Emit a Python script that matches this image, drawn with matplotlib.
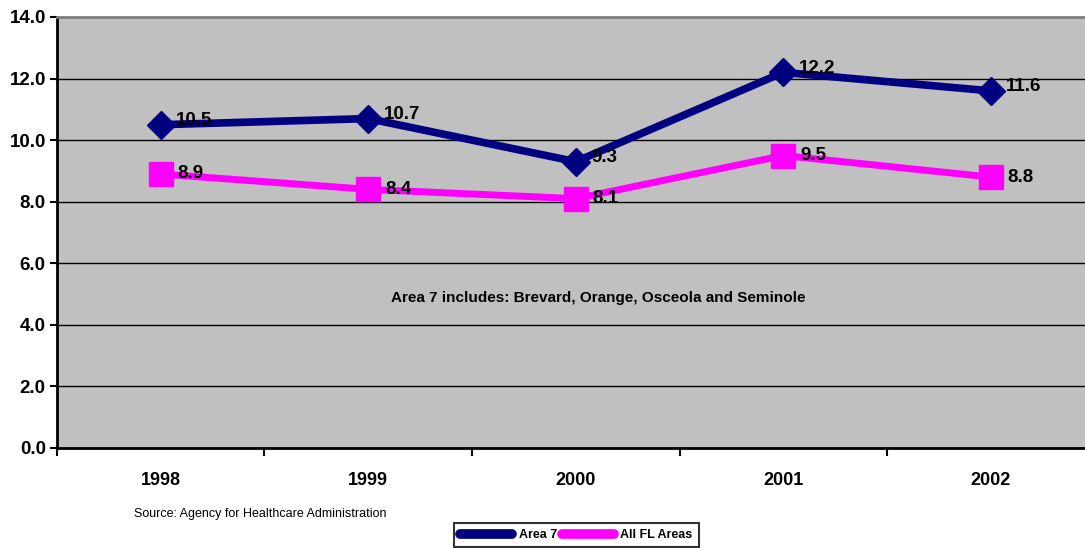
import matplotlib.pyplot as plt
import numpy as np
from matplotlib.ticker import FixedLocator, NullFormatter

# data
years = ['1998', '1999', '2000', '2001', '2002']
area7 = [10.5, 10.7, 9.3, 12.2, 11.6]
all_fl = [8.9, 8.4, 8.1, 9.5, 8.8]

plt.rcParams['font.family'] = ['Liberation Sans', 'DejaVu Sans']

fig = plt.figure(figsize=(10.85, 5.48), dpi=100)
ax = fig.add_axes([0.0525, 0.1825, 0.9475, 0.7865])
ax.set_facecolor('#c0c0c0')

x = np.arange(len(years))
ax.plot(x, area7, color='#000080', lw=5.5, marker='D', ms=14, label='Area 7', zorder=4)
ax.plot(x, all_fl, color='#ff00ff', lw=5, marker='s', ms=17, label='All FL Areas', zorder=3)

for xi, v in zip(x, area7):
    ax.annotate(f'{v:.1f}', (xi, v), xytext=(11, 3), textcoords='offset points',
                ha='left', va='center', fontsize=13.5, fontweight='bold', zorder=5)
for xi, v in zip(x, all_fl):
    ax.annotate(f'{v:.1f}', (xi, v), xytext=(12, 0), textcoords='offset points',
                ha='left', va='center', fontsize=13.5, fontweight='bold', zorder=5)

ax.set_xlim(-0.5, 4.454)
ax.set_ylim(0, 14)
ax.set_yticks(np.arange(0, 15, 2))
ax.set_yticklabels([f'{t:.1f}' for t in np.arange(0, 15, 2)], fontsize=13.5, fontweight='bold')
ax.yaxis.grid(True, color='black', lw=1)
ax.set_axisbelow(True)

# category boundaries as major ticks, labels at centres
ax.xaxis.set_major_locator(FixedLocator(np.arange(-0.5, 4.5, 1)))
ax.xaxis.set_major_formatter(NullFormatter())
ax.set_xticks(x, minor=True)
ax.set_xticklabels(years, minor=True, fontsize=13, fontweight='bold')
ax.tick_params(axis='x', which='minor', length=0, pad=17)
ax.tick_params(axis='x', which='major', length=6, width=1.5)
ax.tick_params(axis='y', length=5, width=1.5, pad=3)

for s in ['left', 'bottom']:
    ax.spines[s].set_linewidth(2)
ax.spines['top'].set_color('#808080')
ax.spines['top'].set_linewidth(2)
ax.spines['right'].set_visible(False)

ax.text(0.527, 0.348, 'Area 7 includes: Brevard, Orange, Osceola and Seminole',
        transform=ax.transAxes, ha='center', va='center', fontsize=11, fontweight='bold')

fig.text(0.1235, 0.062, 'Source: Agency for Healthcare Administration', fontsize=9,
         ha='left', va='center')

leg = fig.legend(loc='upper left', bbox_to_anchor=(0.418, 0.046), ncol=2,
                 prop={'size': 9, 'weight': 'bold'}, frameon=True, fancybox=False,
                 handlelength=4.2, handletextpad=0.5, columnspacing=0.4,
                 borderpad=0.5, markerscale=0.2, borderaxespad=0)
leg.get_frame().set_edgecolor('black')
leg.get_frame().set_linewidth(1.5)
for h in leg.legend_handles:
    h.set_linewidth(7)
    h.set_solid_capstyle('round')

fig.savefig('out.png', dpi=100)
